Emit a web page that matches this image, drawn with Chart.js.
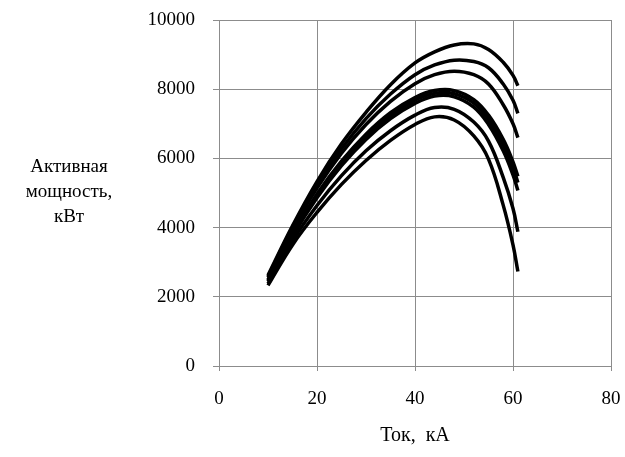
<!DOCTYPE html>
<html>
<head>
<meta charset="utf-8">
<script src="https://cdn.jsdelivr.net/npm/chart.js@4/dist/chart.umd.min.js"></script>
<style>
  html, body { margin: 0; padding: 0; background: #fff; }
  #wrap { width: 625px; height: 457px; }
</style>
</head>
<body>
<div id="wrap"><canvas id="chart" width="625" height="457"></canvas></div>
<script>
/* ── data ────────────────────────────────────────────────── */
const currentKA = [10, 15, 20, 25, 30, 35, 40, 44, 48, 52, 55, 58, 60, 61];

const power1 = [2620, 4050, 5330, 6420, 7330, 8130, 8760, 9080, 9280, 9310, 9150, 8780, 8400, 8100];
const power2 = [2590, 3990, 5230, 6280, 7150, 7860, 8420, 8700, 8840, 8800, 8620, 8150, 7680, 7300];
const power3 = [2560, 3940, 5140, 6150, 6980, 7650, 8160, 8420, 8520, 8420, 8150, 7550, 7000, 6600];
const power4 = [2500, 3830, 4970, 5920, 6700, 7320, 7760, 7960, 7960, 7700, 7250, 6550, 5900, 5480];
const power5 = [2470, 3790, 4920, 5860, 6630, 7240, 7680, 7880, 7870, 7600, 7120, 6400, 5730, 5300];
const power6 = [2440, 3750, 4860, 5790, 6550, 7150, 7590, 7800, 7780, 7480, 6980, 6220, 5520, 5070];
const power7 = [2380, 3620, 4640, 5500, 6220, 6800, 7250, 7470, 7420, 7050, 6500, 5450, 4550, 3880];
const power8 = [2330, 3500, 4440, 5250, 5940, 6520, 6980, 7200, 7110, 6650, 5980, 4650, 3500, 2730];

const allSeries = [power1, power2, power3, power4, power5, power6, power7, power8];

const xTitle = 'Ток,  кА';
const yTitleLines = ['Активная', 'мощность,', 'кВт'];

/* ── helpers ─────────────────────────────────────────────── */
const FONT = "'Liberation Serif', 'Times New Roman', serif";
const GRID = '#8c8c8c';

// Y axis title: three horizontal lines left of tick labels
const yTitlePlugin = {
  id: 'yTitle',
  afterDraw(chart) {
    const ctx = chart.ctx;
    ctx.save();
    ctx.font = '19px ' + FONT;
    ctx.fillStyle = '#000';
    ctx.textAlign = 'center';
    ctx.textBaseline = 'middle';
    yTitleLines.forEach((t, i) => ctx.fillText(t, 69, 167 + i * 25));
    ctx.restore();
  }
};

new Chart(document.getElementById('chart'), {
  type: 'line',
  data: {
    datasets: allSeries.map(s => ({
      data: s.map((v, i) => ({ x: currentKA[i], y: v })),
      borderColor: '#000',
      borderWidth: 3.5,
      pointRadius: 0,
      fill: false,
      tension: 0.4,
    }))
  },
  options: {
    responsive: false,
    animation: false,
    layout: { padding: { top: 20, right: 14, left: 0, bottom: 0 } },
    plugins: {
      legend: { display: false },
      tooltip: { enabled: false },
    },
    scales: {
      x: {
        type: 'linear',
        min: 0, max: 80,
        ticks: { stepSize: 20, color: '#000', font: { family: FONT, size: 19 }, padding: 17 },
        grid: { color: GRID, lineWidth: 1, tickLength: 5 },
        border: { color: GRID },
        title: {
          display: true, text: xTitle, color: '#000',
          font: { family: FONT, size: 20 },
          padding: { top: 0, bottom: 9 }
        },
        afterFit: s => { s.height = 91; s.paddingLeft = 0; s.paddingRight = 0; },
      },
      y: {
        min: 0, max: 10000,
        ticks: {
          stepSize: 2000, color: '#000', font: { family: FONT, size: 19 }, padding: 18,
          callback: v => String(v),
        },
        grid: { color: GRID, lineWidth: 1, tickLength: 6 },
        border: { color: GRID },
        afterFit: s => { s.width = 219; s.paddingTop = 0; s.paddingBottom = 0; },
      }
    }
  },
  plugins: [yTitlePlugin]
});
</script>
</body>
</html>
